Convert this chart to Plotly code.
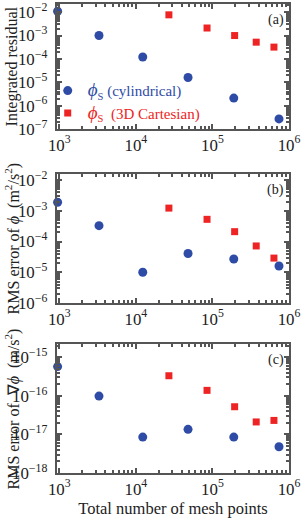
import plotly.graph_objects as go

# Data
cyl_points = [950, 3300, 12300, 48000, 190000, 740000]
cart_points = [27000, 85000, 195000, 373000, 636000]

resid_cyl = [1.1e-2, 1.0e-3, 1.2e-4, 1.6e-5, 2.1e-6, 2.7e-7]
resid_cart = [7.7e-3, 2.1e-3, 1.0e-3, 5.2e-4, 3.2e-4]

rms_phi_cyl = [1.9e-3, 3.3e-4, 1.0e-5, 4.1e-5, 2.7e-5, 1.6e-5]
rms_phi_cart = [1.23e-3, 5.3e-4, 2.1e-4, 7.2e-5, 2.9e-5]

rms_grad_cyl = [5.7e-16, 9.8e-17, 8.5e-18, 1.35e-17, 8.5e-18, 4.8e-18]
rms_grad_cart = [3.3e-16, 1.38e-16, 5.2e-17, 2.1e-17, 2.3e-17]

panel_labels = ["(a)", "(b)", "(c)"]
y_titles = [
    "Integrated residual",
    "RMS error of <i>ϕ</i>  (m<sup>2</sup>/s<sup>2</sup>)",
    "RMS error of  ∇<i>ϕ</i>  (m/s<sup>2</sup>)",
]
x_title = "Total number of mesh points"
name_cyl = '<span style="color:#2E4BA6"><span style="font-size:19px"><i>ϕ</i></span><sub>S</sub> (cylindrical)</span>'
name_cart = '<span style="color:#EE2424"><span style="font-size:19px"><i>ϕ</i></span><sub>S</sub>  (3D Cartesian)</span>'

BLUE = "#2E4BA6"
RED = "#EE2424"
FONT = "Liberation Serif"
AX = "#555555"
TXT = "#222222"

fig = go.Figure()

series = [
    (resid_cyl, resid_cart),
    (rms_phi_cyl, rms_phi_cart),
    (rms_grad_cyl, rms_grad_cart),
]
y_ranges = [[-7, -1.65], [-6, -1.8], [-18, -14.66]]
domains = [[0.7335, 1.0], [0.3625, 0.6375], [0.0, 0.275]]

for i, (yc, yq) in enumerate(series):
    xa = "x" if i == 0 else f"x{i+1}"
    ya = "y" if i == 0 else f"y{i+1}"
    fig.add_trace(go.Scatter(
        x=cyl_points, y=yc, mode="markers", xaxis=xa, yaxis=ya,
        name=name_cyl, showlegend=(i == 0), cliponaxis=False,
        marker=dict(symbol="circle", size=9, color=BLUE),
    ))
    fig.add_trace(go.Scatter(
        x=cart_points, y=yq, mode="markers", xaxis=xa, yaxis=ya,
        name=name_cart, showlegend=(i == 0), cliponaxis=False,
        marker=dict(symbol="square", size=7, color=RED),
    ))

axis_common = dict(
    type="log", showline=True, linewidth=2, linecolor=AX, mirror="allticks",
    ticks="inside", ticklen=5, tickwidth=1.5, tickcolor=AX,
    showgrid=False, zeroline=False, dtick=1, exponentformat="power",
    tickfont=dict(family=FONT, size=13.5, color=TXT), automargin=False,
    ticklabeloverflow="allow",
    minor=dict(ticks="inside", ticklen=3, tickcolor=AX, dtick="D1"),
)

layout = {}
for i in range(3):
    xk = "xaxis" if i == 0 else f"xaxis{i+1}"
    yk = "yaxis" if i == 0 else f"yaxis{i+1}"
    ya = "y" if i == 0 else f"y{i+1}"
    xa = "x" if i == 0 else f"x{i+1}"
    layout[xk] = dict(axis_common, range=[2.97, 6.0], anchor=ya, domain=[0, 1], ticklabelstandoff=0)
    layout[yk] = dict(axis_common, range=y_ranges[i], anchor=xa, domain=domains[i], ticklabelstandoff=5)
layout["xaxis3"]["title"] = dict(text=x_title, font=dict(family=FONT, size=16.5, color=TXT), standoff=4)

fig.update_layout(**layout)

annotations = []
for i, lab in enumerate(panel_labels):
    annotations.append(dict(
        text=lab, xref="paper", yref="paper", x=0.985, y=domains[i][1] - 0.012,
        xanchor="right", yanchor="top", showarrow=False,
        font=dict(family=FONT, size=14, color=TXT),
    ))
    # y-axis titles placed as rotated annotations
    annotations.append(dict(
        text=y_titles[i], xref="paper", yref="paper", x=-0.19,
        y=(domains[i][0] + domains[i][1]) / 2, xanchor="center", yanchor="middle",
        textangle=-90, showarrow=False,
        font=dict(family=FONT, size=16, color=TXT),
    ))

fig.update_layout(
    width=304, height=519,
    margin=dict(l=57, r=15, t=4, b=46),
    paper_bgcolor="white", plot_bgcolor="white",
    font=dict(family=FONT, size=14, color=TXT),
    showlegend=True,
    legend=dict(x=-0.04, y=0.85, xanchor="left", yanchor="top",
                bgcolor="rgba(0,0,0,0)", font=dict(family=FONT, size=15),
                tracegroupgap=0, itemwidth=30),
    annotations=annotations,
)

fig.write_html("out.html", config={"displayModeBar": False},
               post_script="document.body.style.margin='0px';")
